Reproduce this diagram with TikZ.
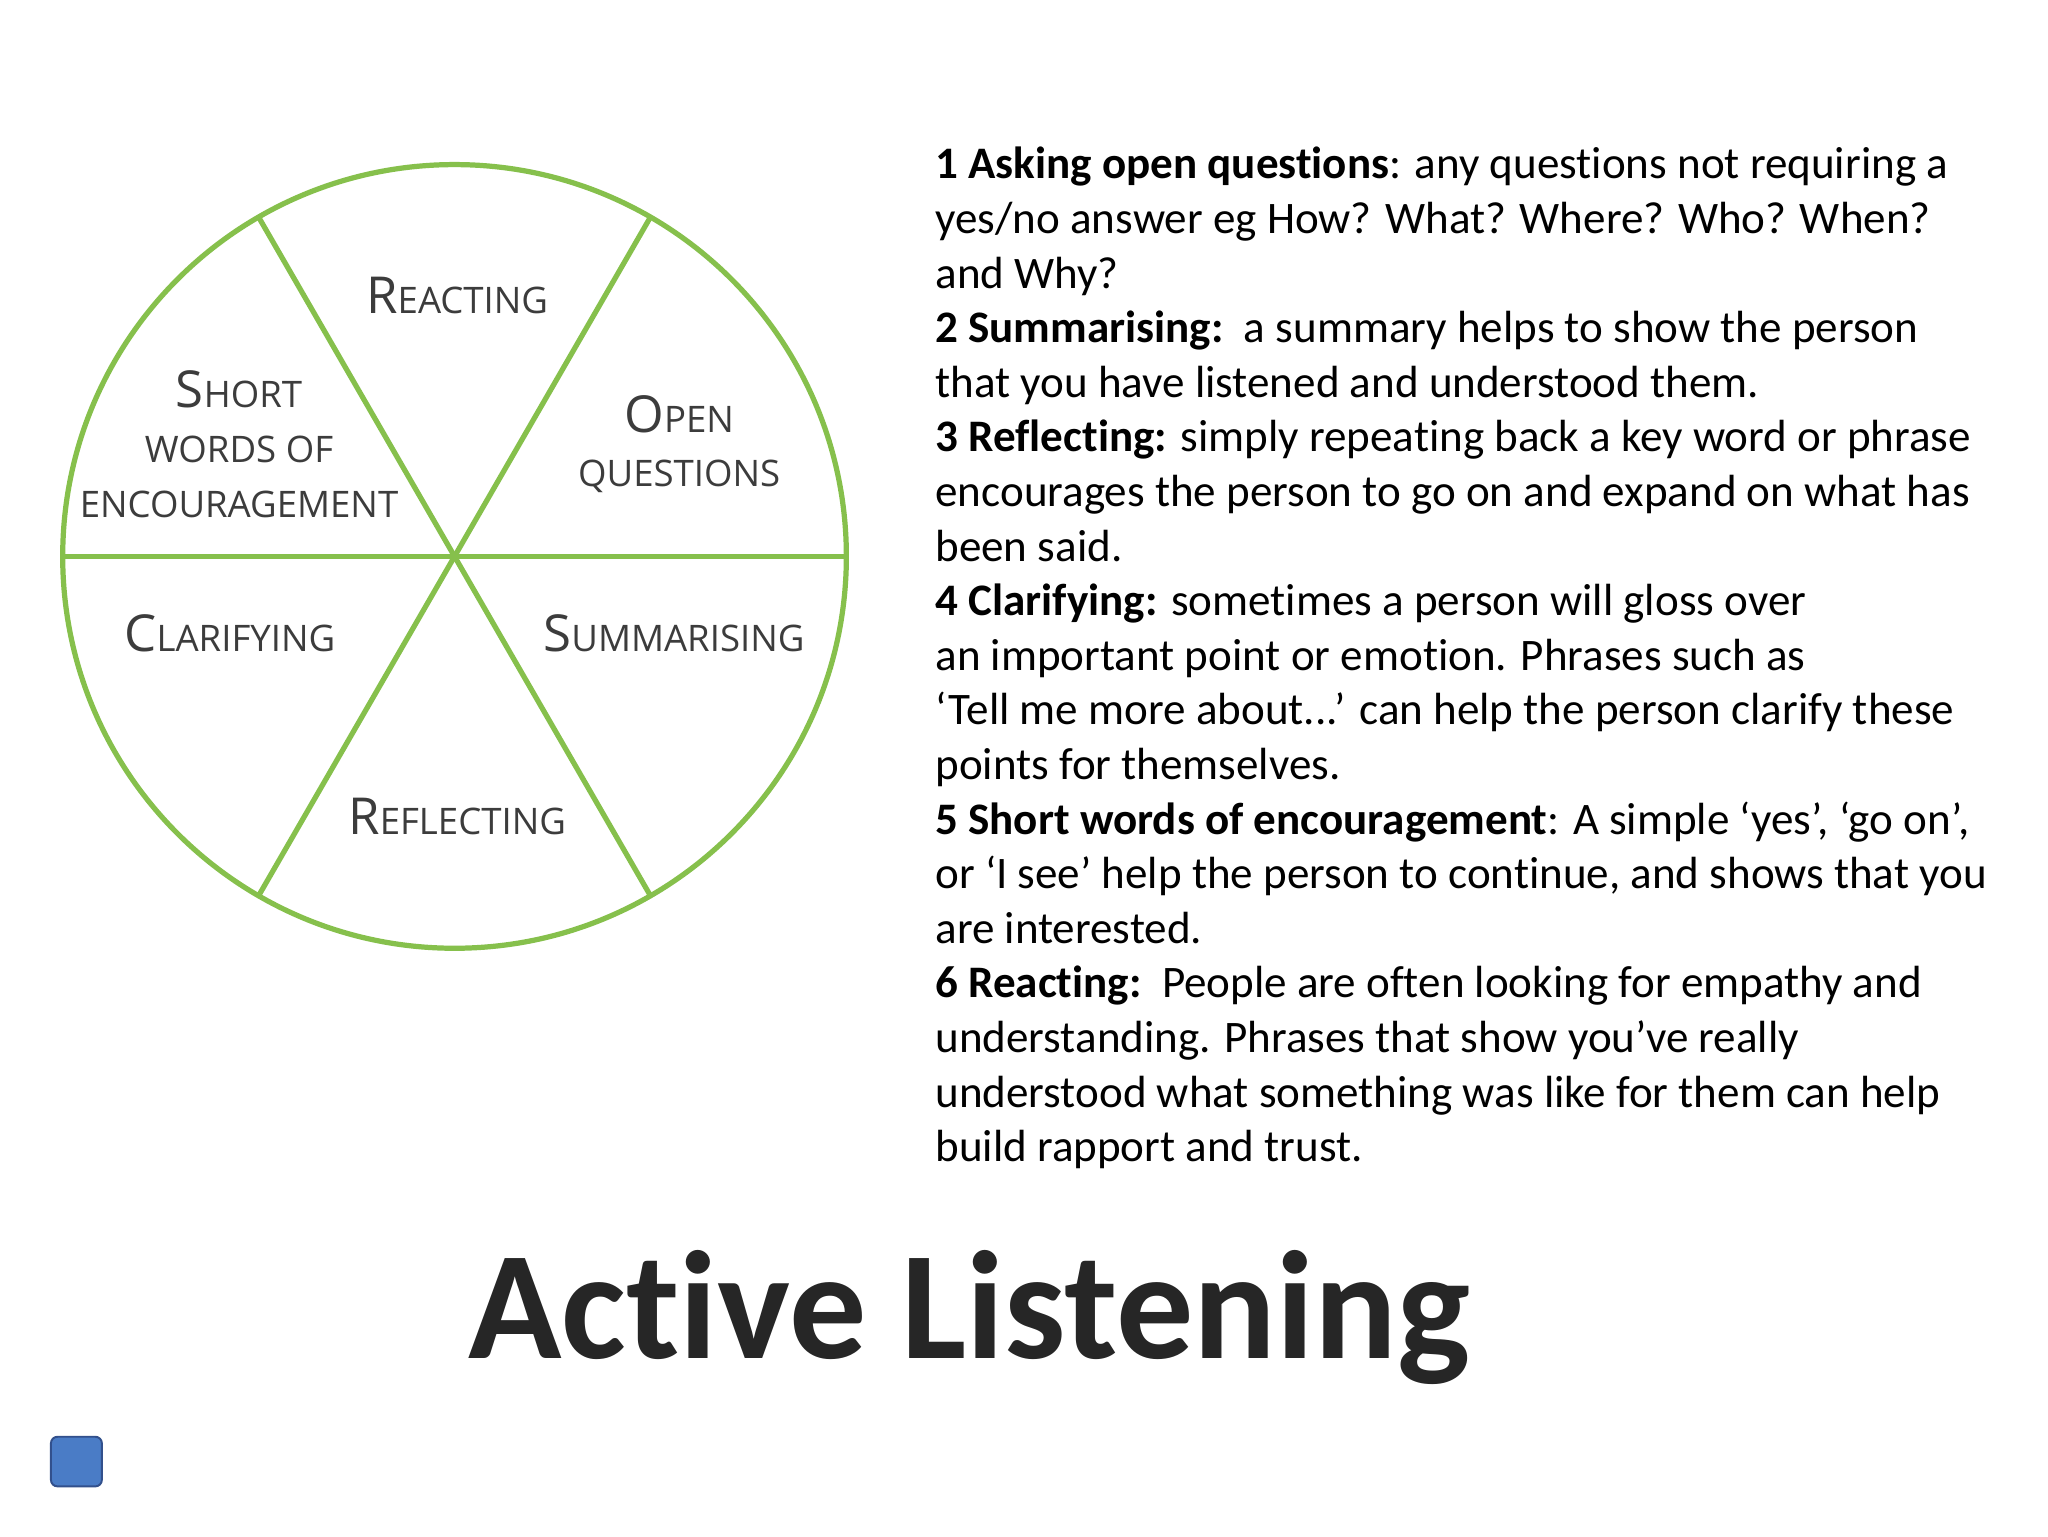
\documentclass[tikz,border=0pt]{standalone}
\usepackage{fontspec}
\setmainfont[Ligatures=NoCommon]{Carlito}
\newfontfamily\labfont{Open Sans}
\definecolor{wheel}{RGB}{134,192,76}
\definecolor{labgray}{RGB}{60,60,60}
\definecolor{boxblue}{RGB}{74,124,198}
\definecolor{boxedge}{RGB}{50,80,140}
\newcommand{\fsc}[2]{{\fontsize{39}{40}\selectfont #1}{\fontsize{28}{40}\selectfont #2}}
\tikzset{lab/.style={font=\labfont\fontsize{28}{42}\selectfont, text=labgray, align=center, inner sep=0pt},
 txt/.style={anchor=base west, inner sep=0pt, font=\fontsize{34.5}{34}\selectfont},
 spoke/.style={draw=wheel, line width=4pt}}
\begin{document}
\begin{tikzpicture}[x=1pt,y=-1pt]
\useasboundingbox (0,0) rectangle (1568,1176);
\fill[white] (0,0) rectangle (1568,1176);
\coordinate (c) at (348,426);
\draw[spoke] (c) circle[radius=300];
\foreach \a in {0,60,120,180,240,300}{\draw[spoke] (c) -- ++(\a:300);}
\node[lab] (l1) at (350,226) {\fsc{R}{EACTING}};
\node[lab] (l2) at (520,340) {\fsc{O}{PEN}\\\fsc{}{QUESTIONS}};
\node[lab] (l3) at (516,485) {\fsc{S}{UMMARISING}};
\node[lab] (l4) at (350,625) {\fsc{R}{EFLECTING}};
\node[lab] (l5) at (176,485) {\fsc{C}{LARIFYING}};
\node[lab] (l6) at (183,340) {\fsc{S}{HORT}\\\fsc{}{WORDS OF}\\\fsc{}{ENCOURAGEMENT}};
\foreach \i/\t in {
0/{\textbf{1 Asking open questions}: any questions not requiring a},
1/{yes/no answer eg How? What? Where? Who? When?},
2/{and Why?},
3/{\textbf{2 Summarising:}\ \ a summary helps to show the person},
4/{that you have listened and understood them.},
5/{\textbf{3 Reflecting:} simply repeating back a key word or phrase},
6/{encourages the person to go on and expand on what has},
7/{been said.},
8/{\textbf{4 Clarifying:} sometimes a person will gloss over},
9/{an important point or emotion. Phrases such as},
10/{‘Tell me more about...’ can help the person clarify these},
11/{points for themselves.},
12/{\textbf{5 Short words of encouragement}: A simple ‘yes’, ‘go on’,},
13/{or ‘I see’ help the person to continue, and shows that you},
14/{are interested.},
15/{\textbf{6 Reacting:}\ \ People are often looking for empathy and},
16/{understanding. Phrases that show you’ve really},
17/{understood what something was like for them can help},
18/{build rapport and trust.}}
{\node[txt] (t\i) at (716,{137+41.8*\i}) {\t};}
\node[anchor=base, inner sep=0pt, text=black!85, font=\fontsize{118}{118}\selectfont\bfseries] (title) at (742,1040) {Active Listening};
\draw[boxedge, fill=boxblue, line width=1.5pt, rounded corners=5pt] (39,1100) rectangle (78,1138);
\end{tikzpicture}
\end{document}
